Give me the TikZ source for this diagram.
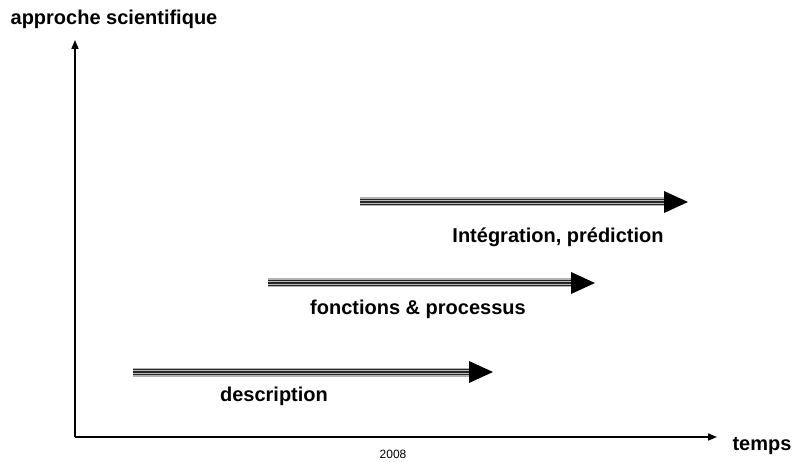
\documentclass[tikz,border=0pt]{standalone}
\usepackage{fontspec}
\setmainfont{Liberation Sans}
\usetikzlibrary{arrows.meta}
\begin{document}
\begin{tikzpicture}[x=1pt,y=-1pt,
  lbl/.style={font=\bfseries\fontsize{20}{22}\selectfont, inner sep=0pt},
  axis/.style={line width=1.6pt, -{Triangle[length=9pt,width=7pt]}},
  stripeA/.style={line width=9pt, draw=gray!60},
  stripeB/.style={line width=6.5pt, draw=black!85},
  stripeC/.style={line width=4pt, draw=gray!55},
  stripeD/.style={line width=1.6pt, draw=black!85},
  head/.style={fill=black}]
\useasboundingbox (0,0) rectangle (795,462);
\coordinate (O) at (75,437);
\coordinate (Ytop) at (75,40);
\coordinate (Xend) at (717,437);
\draw[axis] (O) -- (Ytop);
\draw[axis] (O) -- (Xend);
\node[lbl] (ylab) at (114,19) {approche scientifique};
\node[lbl] (xlab) at (762,446) {temps};
\node[inner sep=0pt, font=\fontsize{12}{13}\selectfont] (yr) at (393,454) {2008};
% arrows
\foreach \n/\xs/\xe/\yy in {a/133/493/372, b/268/595/283, c/360/688/202}{
  \coordinate (\n s) at (\xs,\yy);
  \coordinate (\n b) at (\xe-24,\yy);
  \coordinate (\n e) at (\xe,\yy);
  \draw[stripeA] (\n s) -- (\n b);
  \draw[stripeB] (\n s) -- (\n b);
  \draw[stripeC] (\n s) -- (\n b);
  \draw[stripeD] (\n s) -- (\n b);
  \fill[head] (\n e) -- ([yshift=-11pt]\n b) -- ([yshift=11pt]\n b) -- cycle;
}
\node[lbl] (la) at (274,396) {description};
\node[lbl] (lb) at (418,309) {fonctions \& processus};
\node[lbl] (lc) at (558,237) {Intégration, prédiction};
\end{tikzpicture}
\end{document}
